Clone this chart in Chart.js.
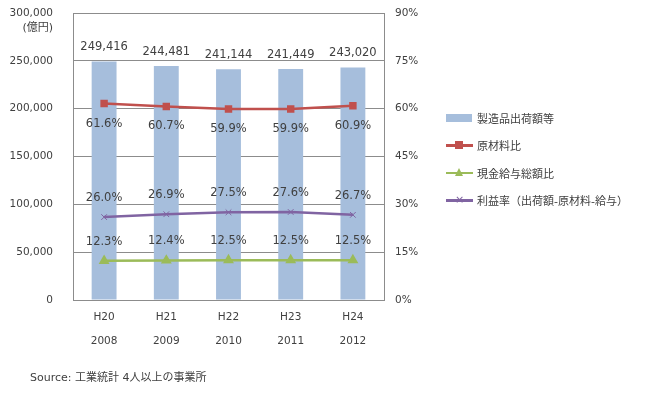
<!DOCTYPE html>
<html>
<head>
<meta charset="utf-8">
<script src="https://cdn.jsdelivr.net/npm/chart.js@4"></script>
<style>
  body { margin:0; background:#fff; font-family:"DejaVu Sans","Noto Sans CJK JP",sans-serif; color:#404040; }
  #wrap { position:relative; width:653px; height:395px; }
  #legend { position:absolute; left:446px; top:104px; font-size:11px; }
  #legend .item { height:27.5px; display:flex; align-items:center; }
  #legend .sw { position:relative; width:27px; height:16px; margin-right:4px; }
  #legend .bar { position:absolute; left:0; top:4px; width:26px; height:8px; background:#a6bedc; }
  #legend .ln { position:absolute; left:0; top:7px; width:27px; height:2.5px; }
  #source { position:absolute; left:30px; top:368px; font-size:11px; }
</style>
</head>
<body>
<div id="wrap">
  <canvas id="chart" width="653" height="395"></canvas>
  <div id="legend"></div>
  <div id="source">Source: 工業統計 4人以上の事業所</div>
</div>
<script>
// データ
const years = [["H20","2008"],["H21","2009"],["H22","2010"],["H23","2011"],["H24","2012"]];
const shipments = [249416, 244481, 241144, 241449, 243020];     // 製造品出荷額等 (億円)
const materialRatio = [61.6, 60.7, 59.9, 59.9, 60.9];           // 原材料比 (%)
const wageRatio = [12.3, 12.4, 12.5, 12.5, 12.5];               // 現金給与総額比 (%)
const profitRate = [26.0, 26.9, 27.5, 27.6, 26.7];              // 利益率 (%)
const seriesNames = ["製造品出荷額等","原材料比","現金給与総額比","利益率（出荷額-原材料-給与）"];

const FONT = '"DejaVu Sans","Noto Sans CJK JP",sans-serif';
const gridColor = "#8c8c8c";
const textColor = "#404040";

// 데이터 라벨 플러그인
const labelPlugin = {
  id: 'valueLabels',
  afterDatasetsDraw(chart){
    const ctx = chart.ctx;
    ctx.save();
    ctx.fillStyle = textColor;
    ctx.font = '11.5px ' + FONT;
    ctx.textAlign = 'center';
    ctx.textBaseline = 'middle';
    chart.data.datasets.forEach((ds, i) => {
      const meta = chart.getDatasetMeta(i);
      meta.data.forEach((el, j) => {
        const v = ds.data[j];
        let text, dy;
        if (ds.type === 'bar') {
          text = v.toLocaleString('en-US'); dy = -14;
        } else {
          text = v.toFixed(1) + '%';
          dy = ds.labelBelow ? 20 : -19;
        }
        ctx.fillText(text, el.x, el.y + dy);
      });
    });
    // 単位
    ctx.font = '11px ' + FONT;
    ctx.textAlign = 'right';
    ctx.fillText('(億円)', 53, 28);
    ctx.restore();
  }
};

const data = {
  labels: years,
  datasets: [
    {
      type: 'bar', label: seriesNames[0], data: shipments, yAxisID: 'y',
      backgroundColor: '#a6bedc', barPercentage: 0.8, categoryPercentage: 0.5, order: 10
    },
    {
      type: 'line', label: seriesNames[1], data: materialRatio, yAxisID: 'y1',
      borderColor: '#c0504d', backgroundColor: '#c0504d', borderWidth: 2.5,
      pointStyle: 'rect', pointRadius: 3.5, labelBelow: true, order: 1
    },
    {
      type: 'line', label: seriesNames[2], data: wageRatio, yAxisID: 'y1',
      borderColor: '#9bbb59', backgroundColor: '#9bbb59', borderWidth: 2.5,
      pointStyle: 'triangle', pointRadius: 3.8, order: 1
    },
    {
      type: 'line', label: seriesNames[3], data: profitRate, yAxisID: 'y1',
      borderColor: '#8064a2', backgroundColor: '#8064a2', borderWidth: 2.5,
      pointStyle: 'crossRot', pointRadius: 4, pointBorderWidth: 1, order: 1
    }
  ]
};

const config = {
  type: 'bar',
  data: data,
  options: {
    responsive: false,
    animation: false,
    layout: { padding: { top: 13, bottom: 45, left: 0, right: 229 } },
    plugins: { legend: { display: false }, tooltip: { enabled: false } },
    scales: {
      x: {
        offset: true,
        grid: { display: false },
        border: { color: gridColor },
        ticks: { color: textColor, font: { size: 10.5, family: FONT, lineHeight: 2.3 }, padding: -3 },
        afterFit(scale){ scale.height = 50; }
      },
      y: {
        position: 'left', min: 0, max: 300000,
        ticks: { stepSize: 50000, color: textColor, font: { size: 10.5, family: FONT }, padding: 0,
          callback: v => v.toLocaleString('en-US') },
        grid: { color: gridColor, tickLength: 20, tickColor: 'transparent' },
        border: { color: gridColor },
        afterFit(scale){ scale.width = 73; }
      },
      y1: {
        position: 'right', min: 0, max: 90,
        ticks: { stepSize: 15, color: textColor, font: { size: 10.5, family: FONT }, padding: 0,
          callback: v => v + '%' },
        grid: { drawOnChartArea: false, tickLength: 11, tickColor: 'transparent' },
        border: { color: gridColor },
        afterFit(scale){ scale.width = 40; }
      }
    }
  },
  plugins: [labelPlugin]
};

const chart = new Chart(document.getElementById('chart').getContext('2d'), config);

// 범례
const legend = document.getElementById('legend');
const markers = [
  '',
  '<div style="position:absolute;left:9px;top:4px;width:8px;height:8px;background:#c0504d"></div>',
  '<div style="position:absolute;left:9px;top:3px;width:0;height:0;border-left:4px solid transparent;border-right:4px solid transparent;border-bottom:8px solid #9bbb59"></div>',
  '<div style="position:absolute;left:9px;top:1px;font-size:11px;line-height:14px;color:#8064a2">×</div>'
];
data.datasets.forEach((ds, i) => {
  const item = document.createElement('div');
  item.className = 'item';
  const sw = i === 0
    ? '<div class="sw"><div class="bar"></div></div>'
    : '<div class="sw"><div class="ln" style="background:' + ds.borderColor + '"></div>' + markers[i] + '</div>';
  item.innerHTML = sw + '<span>' + ds.label + '</span>';
  legend.appendChild(item);
});
</script>
</body>
</html>
